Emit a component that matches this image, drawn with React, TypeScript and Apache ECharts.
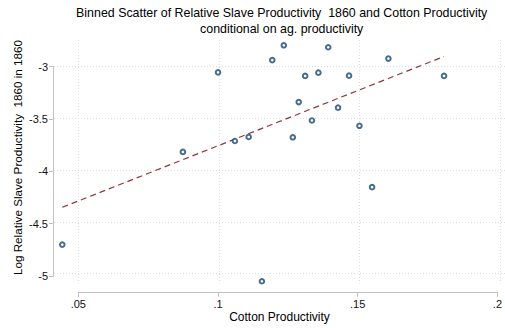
import React, { useEffect, useRef } from 'react';
import * as echarts from 'echarts';

const titleLines = [
  'Binned Scatter of Relative Slave Productivity  1860 and Cotton Productivity',
  'conditional on ag. productivity',
];
const xTitle = 'Cotton Productivity';
const yTitle = 'Log Relative Slave Productivity  1860 in 1860';

const xTicks = [0.05, 0.1, 0.15, 0.2];
const xTickLabels = ['.05', '.1', '.15', '.2'];
const yTicks = [-5, -4.5, -4, -3.5, -3];
const yTickLabels = ['-5', '-4.5', '-4', '-3.5', '-3'];

// binned scatter points (cotton productivity, log relative slave productivity)
const binX = [0.0443, 0.0872, 0.0997, 0.1057, 0.1106, 0.1153, 0.119, 0.1231, 0.1263, 0.1284,
  0.1307, 0.1331, 0.1354, 0.1389, 0.1424, 0.1463, 0.15, 0.1545, 0.1603, 0.1801];
const binY = [-4.72, -3.825, -3.057, -3.72, -3.681, -5.074, -2.939, -2.796, -3.684, -3.344,
  -3.092, -3.522, -3.06, -2.815, -3.398, -3.089, -3.573, -4.166, -2.924, -3.092];

// linear fit endpoints
const fitX = [0.0443, 0.1801];
const fitY = [-4.36, -2.904];

const FONT = '"Liberation Sans", Arial, sans-serif';

function pick(vals: number[], labels: string[], v: number): string {
  const i = vals.findIndex((t) => Math.abs(t - v) < 1e-9);
  return i >= 0 ? labels[i] : '';
}

export default function App() {
  const ref = useRef<HTMLDivElement>(null);
  useEffect(() => {
    const chart = echarts.init(ref.current!, null, { renderer: 'svg' });
    const axisGray = '#c2c2c2';
    const gridStyle = { color: '#dedede', width: 1, type: [1, 2] as any };
    chart.setOption({
      animation: false,
      backgroundColor: '#ffffff',
      title: {
        text: titleLines.join('\n'),
        left: 281.7,
        top: 4.5,
        textAlign: 'center',
        padding: 0,
        textStyle: { fontFamily: FONT, fontSize: 12.4, fontWeight: 'normal', color: '#000', lineHeight: 16.5 },
      },
      graphic: [
        {
          type: 'text',
          x: 17.5,
          y: 157.5,
          rotation: Math.PI / 2,
          style: {
            text: yTitle,
            fontFamily: FONT,
            fontSize: 11.7,
            fill: '#000',
            align: 'center',
            verticalAlign: 'middle',
          },
        },
      ],
      grid: [
        { left: 54, right: 0, top: 40, bottom: 42 },
        { left: 78.3, right: 5, top: 66.7, bottom: 52 },
      ],
      xAxis: [
        {
          gridIndex: 0, type: 'value', min: 0.04135, max: 0.20178,
          axisLine: { show: false },
          axisTick: { show: false, customValues: xTicks },
          axisLabel: { show: false, customValues: xTicks },
          splitLine: { show: true, lineStyle: gridStyle },
          name: xTitle, nameLocation: 'middle', nameGap: 27.5,
          nameTextStyle: { fontFamily: FONT, fontSize: 12, color: '#000' },
        },
        {
          gridIndex: 1, type: 'value', min: 0.05, max: 0.2, interval: 0.05, offset: 16.3,
          axisLine: { show: true, lineStyle: { color: axisGray, width: 1 } },
          axisTick: { show: true, length: 4.5, customValues: xTicks, lineStyle: { color: axisGray } },
          axisLabel: {
            customValues: xTicks, margin: 6, fontFamily: FONT, fontSize: 11, color: '#111',
            formatter: (v: number) => pick(xTicks, xTickLabels, v),
          },
          splitLine: { show: false },
        },
      ],
      yAxis: [
        {
          gridIndex: 0, type: 'value', min: -5.0956, max: -2.745,
          axisLine: { show: false },
          axisTick: { show: false, customValues: yTicks },
          axisLabel: { show: false, customValues: yTicks },
          splitLine: { show: true, lineStyle: gridStyle },
        },
        {
          gridIndex: 1, type: 'value', min: -5, max: -3, interval: 0.5, offset: 24.8,
          axisLine: { show: true, lineStyle: { color: axisGray, width: 1 } },
          axisTick: { show: true, length: 4.5, customValues: yTicks, lineStyle: { color: axisGray } },
          axisLabel: {
            customValues: yTicks, margin: 5.5, fontFamily: FONT, fontSize: 11, color: '#111',
            formatter: (v: number) => pick(yTicks, yTickLabels, v),
          },
          splitLine: { show: false },
        },
      ],
      series: [
        {
          type: 'line',
          xAxisIndex: 0, yAxisIndex: 0,
          data: fitX.map((x, i) => [x, fitY[i]]),
          showSymbol: false,
          symbol: 'none',
          lineStyle: { color: '#90353b', width: 1.2, type: [6, 4] },
          z: 2,
        },
        {
          type: 'scatter',
          xAxisIndex: 0, yAxisIndex: 0,
          data: binX.map((x, i) => [x, binY[i]]),
          symbol: 'emptyCircle',
          symbolSize: 4.6,
          itemStyle: { color: '#1a476f', borderColor: '#1a476f', borderWidth: 1.2 },
          z: 3,
        },
      ],
    });
    return () => chart.dispose();
  }, []);
  return (
    <div
      ref={ref}
      style={{ position: 'fixed', left: 0, top: 0, width: 505, height: 328 }}
    />
  );
}
